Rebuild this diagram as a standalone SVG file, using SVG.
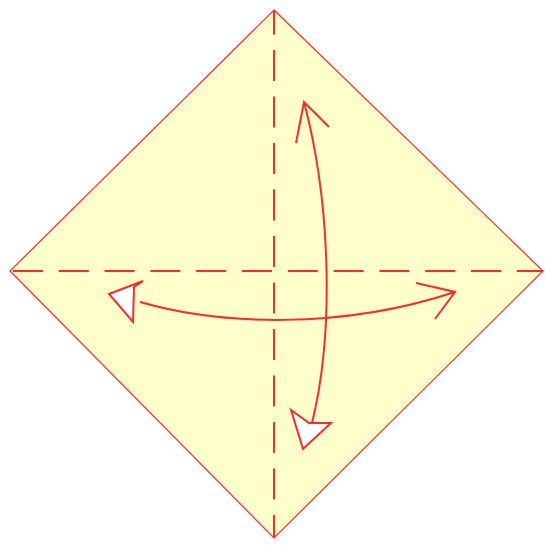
<svg xmlns="http://www.w3.org/2000/svg" width="545" height="545" viewBox="0 0 545 545">
<style>
.edge{fill:#FFFFCC;stroke:#FF2A2A;stroke-width:1.2}
.fold{fill:none;stroke:#FF2A2A;stroke-width:2}
.arrow{fill:none;stroke:#FF2A2A;stroke-width:2;stroke-linejoin:miter}
.head{fill:#FFFFFF;stroke:#FF2A2A;stroke-width:2;stroke-linejoin:miter}
</style>
<rect width="545" height="545" fill="#FFFFFF"/>
<g id="paper">
<polygon class="edge" points="274,10 543,271 274,538 10,271"/>
</g>
<g id="folds">
<line class="fold" x1="274" y1="10" x2="274" y2="538" stroke-dasharray="31 15.5" stroke-dashoffset="6.5"/>
<line class="fold" x1="13" y1="271" x2="543" y2="271" stroke-dasharray="30 15.8"/>
</g>
<g id="connectors">
<path class="arrow" d="M304,102 C330,200 335,330 312,423"/>
<polyline class="arrow" points="296,143 304,102 329,127"/>
<polygon class="head" points="291,410 309,423 331,423 303,449"/>
<path class="arrow" d="M140,302 C220,325 340,330 455,292"/>
<polyline class="arrow" points="416,283 455,292 435,319"/>
<polygon class="head" points="143,281 109,294 133,322 134,287"/>
</g>
</svg>
